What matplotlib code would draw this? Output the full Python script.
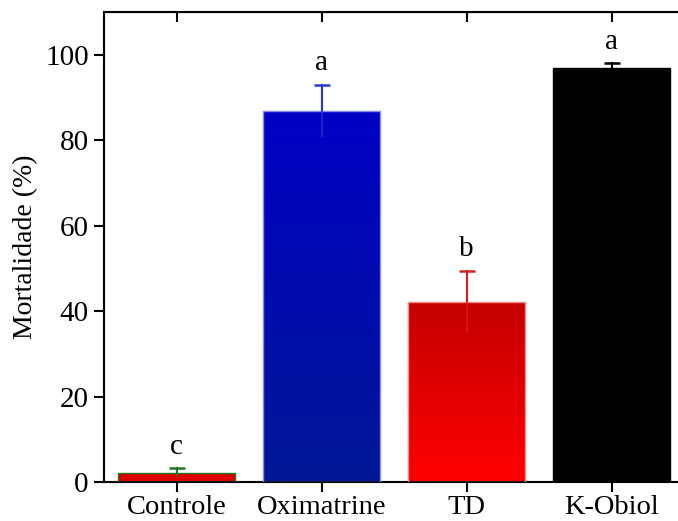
import numpy as np
import matplotlib.pyplot as plt
from matplotlib.colors import LinearSegmentedColormap

plt.rcParams['font.family'] = ['Liberation Serif', 'DejaVu Serif']

# dados
grupos = ["Controle", "Oximatrine", "TD", "K-Obiol"]
mortalidade = [2.2, 86.9, 42.1, 96.8]
erro = [1.0, 6.1, 7.4, 1.2]
letras = ["c", "a", "b", "a"]

# cores (topo, base) de cada barra
cor_topo = ["#e00000", "#0000c4", "#c40000", "#000000"]
cor_base = ["#e00000", "#001896", "#ff0000", "#000000"]
cor_borda = ["#1e7a1e", "#8888ff", "#ff8888", "#000000"]
cor_erro = ["#1e7a1e", "#2a3ad8", "#d42020", "#000000"]

fig = plt.figure(figsize=(6.78, 5.21), dpi=100)
ax = fig.add_axes([104 / 678, 39 / 521, 580 / 678, 470 / 521])

x = np.arange(len(grupos))
largura = 0.81
barras = ax.bar(x, mortalidade, width=largura, color="none", edgecolor="none", zorder=2)

for i, b in enumerate(barras):
    cmap = LinearSegmentedColormap.from_list("g", [cor_base[i], cor_topo[i]])
    grad = np.linspace(0, 1, 256).reshape(-1, 1)
    x0, y0 = b.get_x(), b.get_y()
    im = ax.imshow(grad, cmap=cmap, origin="lower", aspect="auto",
                   extent=[x0, x0 + b.get_width(), y0, y0 + b.get_height()], zorder=2)
    im.set_clip_path(b)
    ax.bar(x[i], mortalidade[i], width=largura, color="none",
           edgecolor=cor_borda[i], linewidth=1.0, zorder=3)
    # barra de erro: linha simetrica, so com tampa em cima
    ax.errorbar(x[i], mortalidade[i], yerr=erro[i], fmt="none",
                ecolor=cor_erro[i], elinewidth=1.5, capsize=0, alpha=0.6, zorder=4)
    ax.plot([x[i], x[i]], [mortalidade[i], mortalidade[i] + erro[i]],
            color=cor_erro[i], linewidth=1.5, zorder=4)
    ax.plot([x[i]], [mortalidade[i] + erro[i]], marker="_", markersize=11,
            markeredgewidth=1.8, color=cor_erro[i], zorder=4)
    ax.text(x[i], mortalidade[i] + erro[i] + 5, letras[i], ha="center", va="center",
            fontsize=21)

ax.set_xlim(-0.5, 3.5)
ax.set_ylim(0, 110)
ax.set_xticks(x)
ax.set_xticklabels(grupos)
ax.set_yticks([0, 20, 40, 60, 80, 100])
ax.set_ylabel("Mortalidade (%)", fontsize=20, labelpad=5)

for s in ax.spines.values():
    s.set_linewidth(1.5)
ax.tick_params(axis="both", labelsize=21, length=7, width=1.5, direction="out")
ax.tick_params(axis="x", labelsize=20.5, pad=2.5)
ax.tick_params(axis="y", pad=4)

# ticks internos no topo e na direita
topo = ax.secondary_xaxis("top")
topo.set_xticks(x)
topo.tick_params(direction="in", length=7, width=1.5, labeltop=False)
direita = ax.secondary_yaxis("right")
direita.set_yticks([0, 20, 40, 60, 80, 100])
direita.tick_params(direction="in", length=4, width=1.0, labelright=False)

fig.savefig("out.png", dpi=100)
